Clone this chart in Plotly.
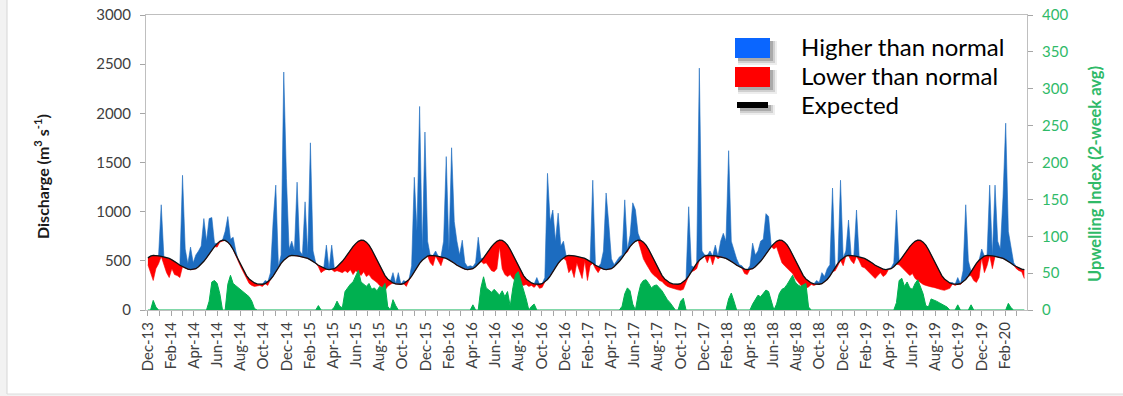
import numpy as np
import pandas as pd
import plotly.graph_objects as go

# Weekly normal discharge (m3/s) by week of year, week 1 = Jan 1-7
normal_weekly = [545, 540, 535, 525, 510, 495, 475, 455, 440, 425,
                 415, 410, 412, 420, 440, 465, 495, 530, 570, 610,
                 645, 675, 698, 710, 708, 690, 660, 615, 560, 500,
                 445, 395, 350, 315, 290, 275, 265, 260, 262, 268,
                 285, 310, 345, 390, 435, 475, 505, 530, 548, 555,
                 555, 550]

# Observed weekly discharge (m3/s), one list per Dec-Nov water year
discharge_wy2014 = [460, 380, 300, 420, 470, 1070, 470, 380, 330, 420,
                    360, 350, 330, 1370, 620, 470, 640, 480, 560, 600,
                    650, 930, 700, 930, 940, 680, 640, 690, 700, 800,
                    950, 720, 740, 600, 490, 430, 380, 320, 270, 250,
                    240, 245, 250, 240, 300, 250, 380, 900, 1270, 440,
                    560, 2420]
discharge_wy2015 = [1340, 620, 700, 600, 1300, 600, 560, 1100, 560, 1700,
                    600, 480, 440, 380, 400, 660, 420, 660, 390, 400,
                    390, 380, 400, 380, 410, 360, 400, 380, 350, 390,
                    340, 360, 320, 300, 280, 250, 230, 200, 240, 260,
                    380, 270, 380, 260, 300, 240, 300, 450, 1350, 800,
                    2070, 600]
discharge_wy2016 = [1810, 700, 480, 450, 600, 500, 450, 700, 1560, 600,
                    1650, 900, 700, 560, 710, 480, 440, 450, 440, 480,
                    740, 520, 470, 480, 440, 400, 390, 420, 640, 420,
                    360, 340, 360, 320, 300, 290, 260, 250, 260, 240,
                    250, 230, 330, 220, 230, 330, 1390, 900, 1017, 700,
                    985, 650]
discharge_wy2017 = [700, 500, 380, 420, 330, 480, 400, 320, 500, 300,
                    450, 1320, 420, 380, 470, 600, 1190, 880, 520, 460,
                    500, 540, 560, 1120, 590, 760, 1090, 1020, 780, 600,
                    520, 470, 420, 380, 350, 330, 300, 290, 260, 240,
                    230, 220, 210, 205, 200, 210, 280, 1050, 450, 400,
                    420, 2460]
discharge_wy2018 = [600, 560, 480, 600, 460, 660, 520, 700, 780, 700,
                    1620, 700, 600, 520, 460, 450, 370, 360, 450, 680,
                    560, 600, 700, 720, 980, 950, 650, 620, 640, 560,
                    480, 450, 420, 400, 370, 320, 290, 250, 220, 220,
                    235, 260, 250, 300, 280, 380, 340, 420, 460, 1240,
                    400, 450]
discharge_wy2019 = [1320, 450, 600, 915, 500, 470, 1017, 500, 440, 430,
                    400, 370, 350, 320, 350, 380, 340, 360, 420, 430,
                    480, 1017, 460, 430, 400, 380, 350, 370, 320, 300,
                    280, 260, 250, 240, 235, 230, 220, 210, 205, 200,
                    210, 220, 280, 250, 330, 260, 400, 1070, 500, 350,
                    300, 280]
discharge_wy2020 = [330, 620, 380, 450, 1270, 420, 1270, 700, 620, 1150,
                    1900, 800, 650, 480, 420, 400, 390, 320]

# Upwelling index, 2-week average, same weekly steps
upwelling_wy2014 = [0, 0, 13, 4, 0, 0, 0, 0, 0, 0,
                    0, 0, 0, 0, 0, 0, 0, 0, 0, 0,
                    0, 0, 0, 12, 38, 40, 36, 22, 0, 0,
                    35, 47, 36, 33, 30, 26, 24, 20, 18, 12,
                    2, 0, 0, 0, 0, 0, 0, 0, 0, 0,
                    0, 0]
upwelling_wy2015 = [0, 0, 0, 0, 0, 0, 0, 0, 0, 0,
                    0, 0, 6, 0, 0, 0, 0, 0, 4, 12,
                    5, 3, 25, 30, 35, 38, 45, 54, 38, 35,
                    32, 36, 28, 30, 26, 32, 30, 36, 5, 0,
                    14, 6, 0, 0, 0, 0, 0, 0, 0, 0,
                    0, 0]
upwelling_wy2016 = [0, 0, 0, 0, 0, 0, 0, 0, 0, 0,
                    0, 0, 0, 0, 0, 0, 0, 0, 7, 0,
                    0, 30, 45, 30, 27, 24, 28, 24, 20, 26,
                    18, 25, 5, 30, 48, 52, 40, 30, 15, 0,
                    5, 8, 0, 0, 0, 0, 0, 0, 0, 0,
                    0, 0]
upwelling_wy2017 = [0, 0, 0, 0, 0, 0, 0, 0, 0, 0,
                    0, 0, 0, 0, 0, 0, 0, 0, 0, 0,
                    0, 0, 5, 22, 30, 26, 8, 0, 20, 35,
                    40, 41, 36, 30, 33, 34, 30, 26, 20, 14,
                    10, 5, 0, 0, 12, 16, 0, 0, 0, 0,
                    0, 0]
upwelling_wy2018 = [0, 0, 0, 0, 0, 0, 0, 0, 0, 0,
                    15, 23, 12, 0, 0, 0, 0, 0, 0, 8,
                    14, 20, 18, 22, 27, 25, 12, 0, 8, 22,
                    28, 30, 35, 42, 47, 38, 34, 32, 34, 36,
                    4, 0, 0, 0, 0, 0, 0, 0, 0, 0,
                    0, 0]
upwelling_wy2019 = [0, 0, 0, 0, 0, 0, 0, 0, 0, 0,
                    0, 0, 0, 0, 0, 0, 0, 0, 0, 0,
                    0, 10, 40, 43, 32, 38, 30, 28, 36, 41,
                    30, 22, 6, 4, 15, 14, 12, 10, 8, 6,
                    4, 0, 0, 0, 7, 0, 0, 0, 0, 7,
                    0, 0]
upwelling_wy2020 = [0, 0, 0, 0, 0, 0, 0, 0, 0, 0,
                    0, 9, 3, 0, 0, 0, 0, 0]

legend_labels = ["Higher than normal", "Lower than normal", "Expected"]

discharge = np.array(discharge_wy2014 + discharge_wy2015 + discharge_wy2016 +
                     discharge_wy2017 + discharge_wy2018 + discharge_wy2019 +
                     discharge_wy2020, dtype=float)
upwelling = np.array(upwelling_wy2014 + upwelling_wy2015 + upwelling_wy2016 +
                     upwelling_wy2017 + upwelling_wy2018 + upwelling_wy2019 +
                     upwelling_wy2020, dtype=float)

dates = pd.date_range("2013-12-01", periods=len(discharge), freq="7D")
week_of_year = np.minimum((dates.dayofyear.values - 1) // 7, 51)
expected = np.array(normal_weekly, dtype=float)[week_of_year]

upper = np.maximum(discharge, expected)
lower = np.minimum(discharge, expected)

BLUE = "#1c6cc0"
RED = "#ff0000"
GREEN = "#00b050"
GREEN_TXT = "#2fba68"
FONT = "Lato"

fig = go.Figure()
# above-normal band
fig.add_trace(go.Scatter(x=dates, y=expected, mode="lines", line=dict(width=0),
                         showlegend=False, hoverinfo="skip"))
fig.add_trace(go.Scatter(x=dates, y=upper, mode="lines", fill="tonexty",
                         fillcolor=BLUE, line=dict(width=0.6, color=BLUE),
                         name=legend_labels[0], showlegend=False))
# below-normal band
fig.add_trace(go.Scatter(x=dates, y=expected, mode="lines", line=dict(width=0),
                         showlegend=False, hoverinfo="skip"))
fig.add_trace(go.Scatter(x=dates, y=lower, mode="lines", fill="tonexty",
                         fillcolor=RED, line=dict(width=0.6, color=RED),
                         name=legend_labels[1], showlegend=False))
# expected discharge
fig.add_trace(go.Scatter(x=dates, y=expected, mode="lines",
                         line=dict(width=1.3, color="#111111"),
                         name=legend_labels[2], showlegend=False))
# upwelling index on the secondary axis
fig.add_trace(go.Scatter(x=dates, y=upwelling, mode="lines", yaxis="y2",
                         fill="tozeroy", fillcolor=GREEN,
                         line=dict(width=1, color=GREEN),
                         name="Upwelling Index", showlegend=False))

L, R, T, B = 146, 96, 15, 86
W, H = 1123, 396
pw, ph = W - L - R, H - T - B


def px(x):
    return (x - L) / pw


def py(y):
    return (H - B - y) / ph


shapes = []
# legend swatches with soft drop shadows
for (x0, y0, x1, y1, col) in [(735, 38, 770, 58, "#0a66ff"),
                              (735, 67, 770, 87, RED),
                              (737, 102, 768, 108, "#000000")]:
    for off, grow, op in [(5, 2, 0.07), (4, 1, 0.12), (3, 0, 0.18)]:
        shapes.append(dict(type="rect", xref="paper", yref="paper",
                           x0=px(x0 + off - grow), x1=px(x1 + off + grow),
                           y0=py(y1 + off + grow), y1=py(y0 + off - grow),
                           fillcolor=f"rgba(0,0,0,{op})", line=dict(width=0),
                           layer="above"))
    shapes.append(dict(type="rect", xref="paper", yref="paper",
                       x0=px(x0), x1=px(x1), y0=py(y1), y1=py(y0),
                       fillcolor=col, line=dict(width=0), layer="above"))

# outer frame of the chart area
shapes.append(dict(type="rect", xref="paper", yref="paper",
                   x0=px(0), x1=px(7), y0=py(396), y1=py(0),
                   fillcolor="#f2f2f2", line=dict(width=0), layer="below"))
shapes.append(dict(type="line", xref="paper", yref="paper",
                   x0=px(7), x1=px(7), y0=py(394), y1=py(0),
                   line=dict(color="#d6d6d6", width=1)))
shapes.append(dict(type="rect", xref="paper", yref="paper",
                   x0=px(7), x1=px(W), y0=py(396), y1=py(394),
                   fillcolor="#f2f2f2", line=dict(width=0), layer="below"))
shapes.append(dict(type="line", xref="paper", yref="paper",
                   x0=px(7), x1=px(W), y0=py(394), y1=py(394),
                   line=dict(color="#dcdcdc", width=1)))

annotations = []
for label, ymid in zip(legend_labels, [47, 76, 104]):
    annotations.append(dict(text=label, xref="paper", yref="paper",
                            x=px(799), y=py(ymid), xanchor="left",
                            yanchor="middle", showarrow=False,
                            font=dict(family=FONT, size=24, color="#000000")))
annotations.append(dict(text="<b>Discharge (m<sup>3</sup> s<sup>-1</sup>)</b>",
                        xref="paper", yref="paper", x=px(41), y=py(177),
                        textangle=-90, showarrow=False,
                        xanchor="center", yanchor="middle",
                        font=dict(family=FONT, size=16, color="#1a1a1a")))
annotations.append(dict(text="<b>Upwelling Index (2-week avg)</b>",
                        xref="paper", yref="paper", x=px(1095), y=py(174),
                        textangle=-90, showarrow=False,
                        xanchor="center", yanchor="middle",
                        font=dict(family=FONT, size=16.5, color=GREEN_TXT)))

AXIS_GRAY = "#bfbfbf"
fig.update_layout(
    width=W, height=H, autosize=False,
    margin=dict(l=L, r=R, t=T, b=B, pad=0),
    paper_bgcolor="white", plot_bgcolor="white",
    showlegend=False,
    shapes=shapes, annotations=annotations,
    xaxis=dict(type="date", range=["2013-11-26", "2020-03-29"],
               automargin=False,
               tickmode="linear", tick0="2013-12-01", dtick="M2",
               tickformat="%b-%y", tickangle=-90,
               ticks="outside", ticklen=5, tickcolor="#a6a6a6",
               minor=dict(dtick="M1", ticks="outside", ticklen=5,
                          tickcolor="#a6a6a6", showgrid=False),
               showline=True, linecolor=AXIS_GRAY, mirror=True,
               showgrid=False, zeroline=False,
               tickfont=dict(family=FONT, size=15, color="#404040")),
    yaxis=dict(range=[0, 3000], tickmode="linear", tick0=0, dtick=500,
               automargin=False,
               ticks="outside", ticklen=5, tickcolor="#a6a6a6",
               ticklabelstandoff=6,
               showline=True, linecolor=AXIS_GRAY, mirror=True,
               showgrid=False, zeroline=False,
               tickfont=dict(family=FONT, size=15, color="#404040")),
    yaxis2=dict(range=[0, 400], overlaying="y", side="right",
                automargin=False,
                tickmode="linear", tick0=0, dtick=50,
                ticks="outside", ticklen=5, tickcolor="#a6a6a6",
                ticklabelstandoff=6,
                showline=False, showgrid=False, zeroline=False,
                tickfont=dict(family=FONT, size=15, color=GREEN_TXT)),
)

fig.write_html("out.html")
